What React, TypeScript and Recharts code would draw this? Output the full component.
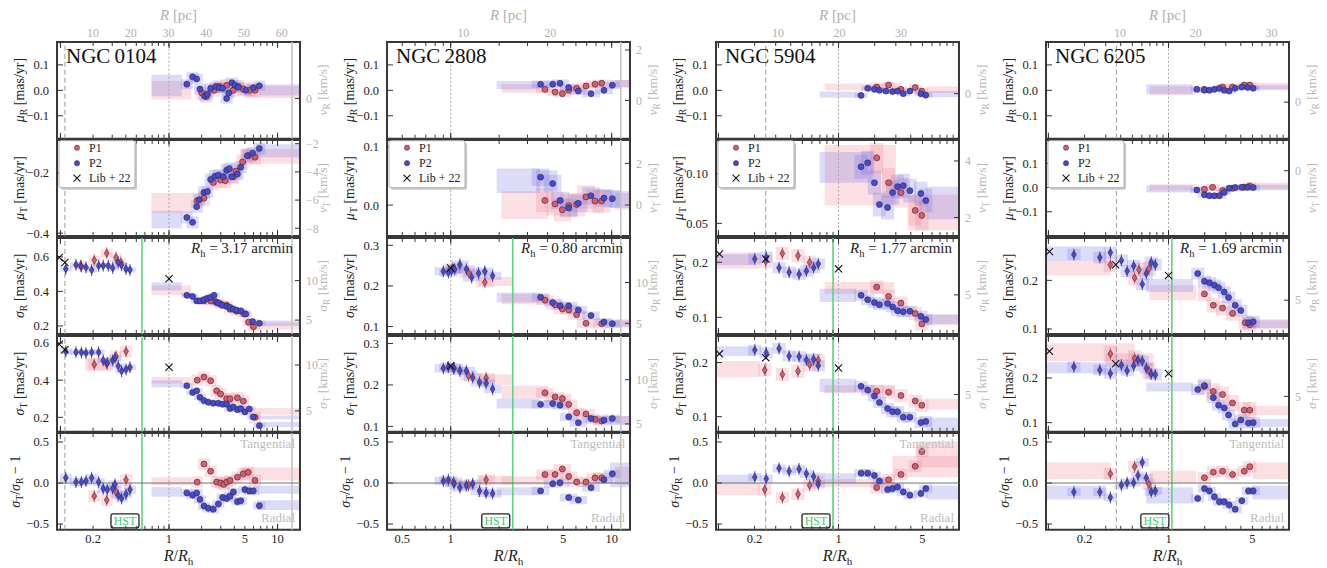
import React from 'react';
import { ComposedChart, Scatter, XAxis, YAxis, ReferenceArea, ReferenceLine } from 'recharts';

type Pt = [number, number];
type Box = [number, number, number, number];

// ---------------- categories & tick labels ----------------
const clusterNames = ['NGC\u20090104', 'NGC\u20092808', 'NGC\u20095904', 'NGC\u20096205'];
const halfLightRadii = ['3.17', '0.80', '1.77', '1.69'];
const xTickLabels: number[][] = [[0.2, 1, 5, 10], [0.5, 1, 5, 10], [0.2, 1, 5], [0.2, 1, 5]];
const pcTickLabels: number[][] = [[10, 20, 30, 40, 50, 60], [10, 20], [10, 20, 30], [10, 20, 30]];
const logMinorTicks = [0.1, 0.2, 0.3, 0.4, 0.5, 0.6, 0.7, 0.8, 0.9, 1, 2, 3, 4, 5, 6, 7, 8, 9, 10, 20];
const logMajorTicks = [0.1, 1, 10];
const xDomains: [number, number][] = [[0.093, 16.1], [0.402, 13.0], [0.0955, 10.07], [0.0955, 10.07]];
const pcDomains: [number, number][] = [[0.48, 64.8], [1.2, 29.2], [-0.1, 39.45], [0.24, 32.3]];
// special radii (R/Rh): dashed, dotted, solid gray, green (HST limit)
const dashedRadii: (number | null)[] = [0.11, null, 0.248, 0.368];
const dottedRadii: number[] = [1, 1, 1, 1];
const grayRadii: (number | null)[] = [13.6, 11.4, null, null];
const hstRadii: number[] = [0.564, 2.43, 0.9, 1.066];

const leftDomains: [number, number][][] = [
  [[-0.19, 0.19], [-0.409, -0.091], [0.154, 0.709], [0.122, 0.638], [-0.57, 0.61]],
  [[-0.19, 0.19], [-0.053, 0.112], [0.082, 0.318], [0.087, 0.318], [-0.57, 0.61]],
  [[-0.19, 0.19], [0.0374, 0.134], [0.07, 0.244], [0.072, 0.249], [-0.57, 0.61]],
  [[-0.19, 0.19], [-0.2, 0.197], [0.09, 0.287], [0.0795, 0.294], [-0.57, 0.61]],
];
const leftTicks: number[][][] = [
  [[-0.1, 0, 0.1], [-0.4, -0.2], [0.2, 0.4, 0.6], [0.2, 0.4, 0.6], [-0.5, 0, 0.5]],
  [[-0.1, 0, 0.1], [0, 0.1], [0.1, 0.2, 0.3], [0.1, 0.2, 0.3], [-0.5, 0, 0.5]],
  [[-0.1, 0, 0.1], [0.05, 0.1], [0.1, 0.2], [0.1, 0.2], [-0.5, 0, 0.5]],
  [[-0.1, 0, 0.1], [-0.1, 0, 0.1], [0.1, 0.2], [0.1, 0.2], [-0.5, 0, 0.5]],
];
const leftDecimals: number[][] = [[1, 1, 1, 1, 1], [1, 1, 1, 1, 1], [1, 2, 1, 1, 1], [1, 1, 1, 1, 1]];
const rightDomains: ([number, number] | null)[][] = [
  [[-2.83, 3.97], [-8.54, -1.74], [3.25, 15.4], [2.72, 13.16], null],
  [[-1.52, 2.32], [-1.48, 3.12], [3.7, 15.45], [4.11, 14.94], null],
  [[-3.17, 3.63], [1.35, 4.74], [2.49, 8.66], [2.56, 8.84], null],
  [[-2.57, 4.23], [-4.62, 2.18], [2.83, 9.0], [2.5, 9.26], null],
];
const rightTicks: (number[] | null)[][] = [
  [[0], [-8, -6, -4, -2], [5, 10], [5, 10], null],
  [[0, 2], [0, 2], [5, 10], [5, 10], null],
  [[0], [2, 4], [5], [5], null],
  [[0], [0], [5], [5], null],
];
// y half-size of the per-bin uncertainty boxes [P1, P2]
const boxErr: [number, number][][] = [
  [[0.025, 0.02], [0.025, 0.02], [0.025, 0.015], [0.03, 0.015], [0.07, 0.05]],
  [[0.015, 0.015], [0.02, 0.015], [0.012, 0.01], [0.012, 0.01], [0.06, 0.05]],
  [[0.012, 0.01], [0.015, 0.012], [0.012, 0.01], [0.012, 0.01], [0.07, 0.05]],
  [[0.012, 0.01], [0.015, 0.012], [0.015, 0.012], [0.018, 0.012], [0.07, 0.05]],
];

// ---------------- NGC 0104 ----------------
const n0104MuR_P1: Pt[] = [[2.0, -0.01], [2.2, -0.025], [2.6, 0.0], [2.91, 0.015], [3.4, 0.02], [3.9, 0.0], [4.35, 0.015], [4.84, 0.005], [5.5, 0.0], [6.2, 0.0]];
const n0104MuR_P2: Pt[] = [[1.46, 0.024], [1.65, 0.053], [1.8, 0.045], [1.93, 0.005], [2.13, -0.022], [2.26, -0.015], [2.42, 0.008], [2.71, 0.015], [2.91, 0.01], [3.12, 0.008], [3.4, -0.032], [3.55, -0.01], [3.8, 0.03], [4.05, 0.02], [4.35, 0.012], [5.09, 0.0], [5.98, 0.01], [6.8, 0.018]];
const n0104MuR_W1: Box[] = [[0.69, 1.6, -0.036, 0.037], [5.0, 16.2, -0.03, 0.017]];
const n0104MuR_W2: Box[] = [[0.69, 1.31, -0.023, 0.061], [6.9, 16.2, -0.02, 0.024]];
const n0104MuT_P1: Pt[] = [[1.82, -0.292], [2.1, -0.284], [2.56, -0.232], [2.99, -0.224], [3.3, -0.226], [3.92, -0.213], [4.15, -0.194], [4.76, -0.164], [5.37, -0.143], [6.2, -0.148]];
const n0104MuT_P2: Pt[] = [[1.46, -0.348], [1.65, -0.364], [1.8, -0.312], [1.9, -0.289], [2.1, -0.265], [2.26, -0.262], [2.42, -0.222], [2.65, -0.211], [2.85, -0.208], [3.17, -0.213], [3.4, -0.191], [3.6, -0.186], [3.78, -0.213], [4.27, -0.204], [4.58, -0.181], [5.27, -0.143], [5.9, -0.135], [6.8, -0.119]];
const n0104MuT_W1: Box[] = [[0.69, 1.6, -0.332, -0.267], [4.5, 16.2, -0.17, -0.121]];
const n0104MuT_W2: Box[] = [[0.69, 1.31, -0.384, -0.326], [6.4, 16.2, -0.148, -0.105]];
const n0104SigR_P1: Pt[] = [[0.153, 0.549], [0.205, 0.581], [0.267, 0.621], [0.325, 0.596], [0.359, 0.567], [2.1, 0.345], [2.42, 0.345], [2.75, 0.335], [3.0, 0.325], [3.4, 0.32], [3.65, 0.297], [4.2, 0.285], [4.9, 0.27], [5.4, 0.222], [6.0, 0.195]];
const n0104SigR_P2: Pt[] = [[0.112, 0.53], [0.139, 0.554], [0.156, 0.545], [0.172, 0.539], [0.194, 0.524], [0.225, 0.549], [0.248, 0.549], [0.276, 0.549], [0.303, 0.535], [0.341, 0.567], [0.366, 0.553], [0.402, 0.53], [0.437, 0.524], [1.46, 0.377], [1.65, 0.371], [1.8, 0.345], [1.93, 0.345], [2.1, 0.352], [2.26, 0.36], [2.42, 0.365], [2.6, 0.377], [2.71, 0.34], [2.85, 0.333], [3.1, 0.32], [3.4, 0.314], [3.65, 0.307], [3.9, 0.297], [4.2, 0.291], [4.6, 0.287], [5.1, 0.269], [5.9, 0.225], [6.8, 0.215]];
const n0104SigR_W1: Box[] = [[0.69, 1.6, 0.377, 0.434], [5.5, 16.2, 0.18, 0.22]];
const n0104SigR_W2: Box[] = [[0.69, 1.31, 0.405, 0.453], [6.9, 16.2, 0.2, 0.232]];
const n0104SigR_Lib: Pt[] = [[0.0975, 0.596], [0.11, 0.567], [1.0, 0.473]];
const n0104SigT_P1: Pt[] = [[0.205, 0.485], [0.267, 0.488], [0.325, 0.529], [0.402, 0.555], [1.82, 0.4], [2.1, 0.417], [2.42, 0.397], [2.75, 0.343], [2.99, 0.325], [3.4, 0.3], [3.65, 0.3], [4.27, 0.305], [4.84, 0.287], [6.2, 0.2]];
const n0104SigT_P2: Pt[] = [[0.112, 0.555], [0.139, 0.551], [0.156, 0.55], [0.172, 0.546], [0.194, 0.55], [0.225, 0.55], [0.248, 0.507], [0.27, 0.493], [0.303, 0.507], [0.318, 0.52], [0.341, 0.476], [0.366, 0.449], [0.402, 0.458], [0.437, 0.47], [1.46, 0.37], [1.65, 0.334], [1.8, 0.343], [1.93, 0.308], [2.1, 0.29], [2.3, 0.281], [2.56, 0.276], [2.85, 0.276], [3.12, 0.27], [3.4, 0.27], [3.65, 0.247], [3.92, 0.255], [4.27, 0.241], [4.58, 0.247], [5.0, 0.229], [5.5, 0.245], [5.98, 0.202], [6.8, 0.155]];
const n0104SigT_W1: Box[] = [[0.69, 1.6, 0.382, 0.417], [5.5, 16.2, 0.215, 0.25], [0.17, 0.3, 0.45, 0.52]];
const n0104SigT_W2: Box[] = [[0.69, 1.31, 0.362, 0.4], [6.0, 16.2, 0.19, 0.21], [6.5, 16.2, 0.148, 0.175]];
const n0104SigT_Lib: Pt[] = [[0.0975, 0.594], [0.11, 0.564], [1.0, 0.47]];
const n0104Aniso_P1: Pt[] = [[0.205, -0.16], [0.267, -0.208], [0.325, -0.108], [0.402, 0.04], [1.82, 0.012], [2.1, 0.232], [2.42, 0.144], [2.75, 0.012], [2.99, 0.0], [3.2, -0.016], [3.4, 0.012], [3.65, 0.032], [4.27, 0.072], [4.84, 0.112], [5.37, 0.132], [6.2, 0.032]];
const n0104Aniso_P2: Pt[] = [[0.112, 0.064], [0.139, 0.012], [0.156, 0.012], [0.172, 0.024], [0.194, 0.064], [0.225, 0.012], [0.248, -0.068], [0.27, -0.08], [0.303, -0.068], [0.318, -0.016], [0.341, -0.148], [0.366, -0.188], [0.402, -0.136], [0.437, -0.08], [1.46, -0.12], [1.65, -0.148], [1.8, -0.12], [1.93, -0.2], [2.1, -0.28], [2.3, -0.308], [2.56, -0.32], [2.85, -0.256], [3.12, -0.176], [3.4, -0.188], [3.65, -0.16], [3.92, -0.108], [4.27, -0.228], [4.58, -0.216], [5.0, -0.08], [5.5, -0.096], [5.98, -0.096], [6.8, -0.276]];
const n0104Aniso_W1: Box[] = [[0.69, 1.6, -0.028, 0.072], [4.5, 16.2, 0.03, 0.19]];
const n0104Aniso_W2: Box[] = [[0.69, 1.31, -0.168, -0.048], [6.0, 16.2, -0.13, -0.03], [6.5, 16.2, -0.33, -0.21]];

// ---------------- NGC 2808 ----------------
const n2808MuR_P1: Pt[] = [[3.85, 0.004], [4.45, -0.007], [4.94, -0.013], [5.41, 0.0], [6.06, 0.008], [6.93, 0.017], [7.88, 0.024], [8.67, 0.028]];
const n2808MuR_P2: Pt[] = [[3.62, 0.024], [4.3, 0.024], [4.78, 0.028], [5.41, 0.011], [6.21, -0.003], [7.44, -0.013], [8.96, 0.0], [10.1, 0.02]];
const n2808MuR_W1: Box[] = [[2.07, 4.04, -0.009, 0.024], [10.5, 13.2, 0.008, 0.041]];
const n2808MuR_W2: Box[] = [[1.93, 3.59, 0.004, 0.037], [9.77, 13.2, 0.013, 0.041]];
const n2808MuT_P1: Pt[] = [[3.85, 0.008], [4.45, 0.002], [4.94, -0.008], [5.41, -0.001], [6.06, 0.001], [6.93, 0.014], [7.88, 0.007], [8.67, 0.007]];
const n2808MuT_P2: Pt[] = [[3.62, 0.048], [4.3, 0.037], [4.78, 0.008], [5.41, -0.005], [6.21, 0.003], [7.44, 0.016], [8.96, 0.012], [10.1, 0.011]];
const n2808MuT_W1: Box[] = [[2.07, 4.04, -0.024, 0.024], [10.5, 13.2, -0.008, 0.021]];
const n2808MuT_W2: Box[] = [[1.93, 3.59, 0.021, 0.063], [9.77, 13.2, -0.005, 0.024], [3.4, 4.6, 0.025, 0.06]];
const n2808SigR_P1: Pt[] = [[1.03, 0.244], [1.29, 0.233], [1.63, 0.209], [3.85, 0.165], [4.45, 0.154], [4.94, 0.143], [5.41, 0.141], [6.06, 0.129], [6.93, 0.108], [8.67, 0.107]];
const n2808SigR_P2: Pt[] = [[0.9, 0.236], [0.967, 0.233], [1.01, 0.238], [1.06, 0.241], [1.14, 0.253], [1.25, 0.241], [1.35, 0.221], [1.49, 0.231], [1.63, 0.236], [1.82, 0.225], [3.62, 0.172], [4.3, 0.159], [4.78, 0.151], [5.41, 0.151], [6.21, 0.141], [7.44, 0.127], [8.96, 0.111], [10.1, 0.107]];
const n2808SigR_W1: Box[] = [[2.07, 4.04, 0.155, 0.18], [10.5, 13.2, 0.1, 0.118], [1.5, 2.43, 0.2, 0.222]];
const n2808SigR_W2: Box[] = [[1.93, 3.59, 0.159, 0.184], [9.77, 13.2, 0.098, 0.115]];
const n2808SigR_Lib: Pt[] = [[1.0, 0.244]];
const n2808SigT_P1: Pt[] = [[1.04, 0.24], [1.29, 0.222], [1.66, 0.217], [3.85, 0.181], [4.45, 0.171], [4.94, 0.167], [5.41, 0.153], [6.06, 0.133], [6.93, 0.13], [7.88, 0.117], [8.67, 0.113]];
const n2808SigT_P2: Pt[] = [[0.9, 0.24], [0.967, 0.243], [1.05, 0.24], [1.14, 0.234], [1.25, 0.234], [1.37, 0.218], [1.51, 0.206], [1.66, 0.204], [1.82, 0.19], [3.62, 0.153], [4.3, 0.155], [4.78, 0.151], [5.41, 0.123], [6.21, 0.109], [7.44, 0.119], [8.96, 0.115], [10.1, 0.119]];
const n2808SigT_W1: Box[] = [[2.07, 4.04, 0.167, 0.198], [10.5, 13.2, 0.105, 0.125], [1.5, 2.43, 0.2, 0.225]];
const n2808SigT_W2: Box[] = [[1.93, 3.59, 0.143, 0.167], [9.77, 13.2, 0.103, 0.125]];
const n2808SigT_Lib: Pt[] = [[1.0, 0.246]];
const n2808Aniso_P1: Pt[] = [[1.04, 0.012], [1.29, -0.028], [1.66, 0.04], [3.85, 0.104], [4.45, 0.104], [4.94, 0.172], [5.41, 0.08], [6.06, 0.012], [6.93, 0.012], [7.88, 0.064], [8.67, 0.064]];
const n2808Aniso_P2: Pt[] = [[0.9, 0.024], [0.967, 0.04], [1.05, -0.008], [1.14, -0.056], [1.25, -0.028], [1.37, -0.008], [1.51, -0.096], [1.66, -0.12], [1.82, -0.128], [3.62, -0.096], [4.3, -0.008], [4.78, 0.004], [5.41, -0.176], [6.21, -0.208], [7.44, -0.056], [8.96, 0.04], [10.1, 0.112]];
const n2808Aniso_W1: Box[] = [[2.07, 4.04, -0.02, 0.08], [10.5, 13.2, -0.02, 0.2], [1.5, 2.43, -0.02, 0.09]];
const n2808Aniso_W2: Box[] = [[1.93, 3.59, -0.15, -0.05], [9.77, 13.2, -0.05, 0.25]];

// ---------------- NGC 5904 ----------------
const n5904MuR_P1: Pt[] = [[2.08, 0.013], [2.61, 0.021], [3.31, 0.004], [4.35, 0.011], [4.94, -0.003]];
const n5904MuR_P2: Pt[] = [[1.54, -0.02], [1.75, 0.008], [1.99, 0.004], [2.19, 0.0], [2.48, -0.003], [2.82, -0.005], [3.1, -0.003], [3.46, -0.013], [3.93, -0.003], [4.85, -0.013], [5.33, -0.019]];
const n5904MuR_W1: Box[] = [[0.766, 1.81, 0.0, 0.027], [5.4, 10.2, -0.01, 0.015], [1.8, 3.3, 0.0, 0.03]];
const n5904MuR_W2: Box[] = [[0.696, 1.49, -0.029, -0.005], [5.4, 10.2, -0.027, -0.003]];
const n5904MuT_P1: Pt[] = [[2.08, 0.116], [2.61, 0.091], [3.31, 0.081], [4.35, 0.063], [4.94, 0.058]];
const n5904MuT_P2: Pt[] = [[1.54, 0.107], [1.75, 0.111], [1.99, 0.091], [2.19, 0.069], [2.56, 0.066], [2.82, 0.081], [3.1, 0.087], [3.46, 0.088], [3.93, 0.083], [4.85, 0.08], [5.33, 0.073]];
const n5904MuT_W1: Box[] = [[0.766, 3.0, 0.068, 0.129], [3.76, 10.2, 0.043, 0.079]];
const n5904MuT_W2: Box[] = [[0.696, 1.93, 0.091, 0.122], [5.4, 10.2, 0.054, 0.087]];
const n5904SigR_P1: Pt[] = [[0.248, 0.202], [0.341, 0.216], [0.46, 0.212], [0.575, 0.2], [2.08, 0.155], [2.61, 0.138], [3.31, 0.126], [4.35, 0.107], [4.94, 0.088]];
const n5904SigR_P2: Pt[] = [[0.201, 0.206], [0.25, 0.209], [0.32, 0.19], [0.388, 0.182], [0.469, 0.178], [0.54, 0.184], [0.621, 0.19], [0.678, 0.197], [1.54, 0.14], [1.75, 0.132], [1.99, 0.127], [2.19, 0.123], [2.56, 0.125], [2.82, 0.119], [3.1, 0.112], [3.46, 0.11], [3.93, 0.111], [4.85, 0.102], [5.33, 0.096]];
const n5904SigR_W1: Box[] = [[0.095, 0.22, 0.188, 0.218], [0.766, 2.91, 0.143, 0.164], [5.4, 10.2, 0.085, 0.105]];
const n5904SigR_W2: Box[] = [[0.095, 0.2, 0.195, 0.215], [0.696, 1.4, 0.128, 0.152], [5.4, 10.2, 0.088, 0.105]];
const n5904SigR_Lib: Pt[] = [[0.102, 0.215], [0.248, 0.206], [1.0, 0.188]];
const n5904SigT_P1: Pt[] = [[0.243, 0.186], [0.341, 0.178], [0.46, 0.184], [0.575, 0.196], [0.678, 0.204], [2.08, 0.147], [2.61, 0.145], [3.31, 0.139], [4.35, 0.129], [4.94, 0.121]];
const n5904SigT_P2: Pt[] = [[0.201, 0.223], [0.25, 0.218], [0.32, 0.226], [0.388, 0.212], [0.469, 0.211], [0.54, 0.205], [0.621, 0.206], [0.678, 0.194], [1.54, 0.156], [1.75, 0.149], [1.99, 0.138], [2.19, 0.126], [2.56, 0.115], [2.82, 0.109], [3.1, 0.109], [3.46, 0.099], [3.93, 0.099], [4.85, 0.089], [5.33, 0.091]];
const n5904SigT_W1: Box[] = [[0.095, 0.22, 0.173, 0.203], [0.766, 2.91, 0.143, 0.158], [5.4, 10.2, 0.113, 0.133]];
const n5904SigT_W2: Box[] = [[0.095, 0.2, 0.212, 0.23], [0.696, 1.4, 0.145, 0.17], [5.4, 10.2, 0.075, 0.098]];
const n5904SigT_Lib: Pt[] = [[0.102, 0.216], [0.248, 0.209], [1.0, 0.19]];
const n5904Aniso_P1: Pt[] = [[0.243, -0.08], [0.341, -0.176], [0.46, -0.136], [0.575, -0.028], [0.678, 0.024], [2.08, -0.056], [2.61, 0.04], [3.31, 0.104], [4.35, 0.204], [4.94, 0.384]];
const n5904Aniso_P2: Pt[] = [[0.201, 0.072], [0.25, 0.052], [0.32, 0.18], [0.388, 0.144], [0.469, 0.172], [0.54, 0.112], [0.621, 0.08], [0.678, -0.016], [1.54, 0.12], [1.75, 0.12], [1.99, 0.092], [2.19, 0.024], [2.56, -0.08], [2.82, -0.068], [3.1, -0.048], [3.46, -0.108], [3.93, -0.148], [4.85, -0.128], [5.33, -0.068]];
const n5904Aniso_W1: Box[] = [[0.095, 0.22, -0.15, 0.0], [0.766, 2.91, -0.05, 0.05], [2.82, 10.2, 0.07, 0.33], [4.5, 10.2, 0.19, 0.51]];
const n5904Aniso_W2: Box[] = [[0.095, 0.2, 0.0, 0.1], [0.696, 1.4, 0.0, 0.12], [5.4, 10.2, -0.2, -0.03]];

// ---------------- NGC 6205 ----------------
const n6205MuR_P1: Pt[] = [[1.99, 0.004], [2.82, 0.013], [3.41, 0.013], [4.27, 0.021], [4.75, 0.021]];
const n6205MuR_P2: Pt[] = [[1.72, 0.004], [1.99, 0.0], [2.19, 0.0], [2.41, 0.004], [2.65, 0.008], [2.91, 0.0], [3.2, -0.003], [3.59, 0.008], [4.08, 0.013], [4.55, 0.011], [5.07, 0.008]];
const n6205MuR_W1: Box[] = [[0.696, 1.7, -0.016, 0.016], [5.0, 10.2, 0.005, 0.03]];
const n6205MuR_W2: Box[] = [[0.653, 1.59, -0.016, 0.024], [5.2, 10.2, 0.0, 0.02]];
const n6205MuT_P1: Pt[] = [[1.99, -0.007], [2.33, 0.001], [2.82, -0.012], [3.41, -0.003], [4.27, 0.001], [4.75, 0.007]];
const n6205MuT_P2: Pt[] = [[1.72, -0.01], [1.99, -0.03], [2.19, -0.034], [2.41, -0.034], [2.65, -0.034], [2.91, -0.02], [3.2, -0.003], [3.59, 0.0], [4.08, 0.001], [4.55, 0.001], [5.07, 0.0]];
const n6205MuT_W1: Box[] = [[0.696, 1.7, -0.012, 0.014], [5.0, 10.2, -0.005, 0.02]];
const n6205MuT_W2: Box[] = [[0.653, 1.59, -0.02, 0.01], [5.2, 10.2, -0.012, 0.012]];
const n6205SigR_P1: Pt[] = [[0.328, 0.232], [0.522, 0.205], [0.567, 0.222], [0.687, 0.224], [1.99, 0.172], [2.36, 0.149], [2.82, 0.143], [3.41, 0.132], [4.35, 0.113], [4.75, 0.109]];
const n6205SigR_P2: Pt[] = [[0.163, 0.253], [0.268, 0.247], [0.328, 0.257], [0.405, 0.241], [0.452, 0.219], [0.513, 0.23], [0.605, 0.192], [0.653, 0.214], [0.718, 0.237], [0.776, 0.232], [1.75, 0.214], [1.99, 0.198], [2.19, 0.195], [2.41, 0.19], [2.61, 0.185], [2.91, 0.176], [3.16, 0.165], [3.59, 0.149], [4.0, 0.138], [4.63, 0.113], [5.07, 0.115]];
const n6205SigR_W1: Box[] = [[0.095, 0.33, 0.21, 0.24], [0.696, 1.7, 0.159, 0.19], [5.0, 10.2, 0.1, 0.12]];
const n6205SigR_W2: Box[] = [[0.095, 0.3, 0.24, 0.27], [0.653, 1.6, 0.176, 0.203], [5.0, 10.2, 0.102, 0.118]];
const n6205SigR_Lib: Pt[] = [[0.102, 0.259], [0.363, 0.232], [1.0, 0.21]];
const n6205SigT_P1: Pt[] = [[0.328, 0.254], [0.522, 0.244], [0.687, 0.216], [1.99, 0.181], [2.36, 0.17], [2.82, 0.163], [3.41, 0.144], [4.27, 0.128], [4.75, 0.128]];
const n6205SigT_P2: Pt[] = [[0.163, 0.225], [0.268, 0.218], [0.328, 0.21], [0.405, 0.229], [0.452, 0.216], [0.513, 0.227], [0.557, 0.24], [0.605, 0.238], [0.653, 0.222], [0.718, 0.209], [0.776, 0.207], [1.75, 0.174], [1.99, 0.183], [2.36, 0.156], [2.61, 0.139], [2.91, 0.133], [3.16, 0.117], [3.59, 0.097], [4.0, 0.106], [4.63, 0.099], [5.07, 0.1]];
const n6205SigT_W1: Box[] = [[0.095, 0.52, 0.238, 0.278], [0.3, 0.75, 0.225, 0.255], [5.0, 10.2, 0.117, 0.138]];
const n6205SigT_W2: Box[] = [[0.095, 0.45, 0.21, 0.235], [0.653, 1.6, 0.17, 0.19], [5.0, 10.2, 0.09, 0.108]];
const n6205SigT_Lib: Pt[] = [[0.102, 0.26], [0.363, 0.232], [1.0, 0.21]];
const n6205Aniso_P1: Pt[] = [[0.328, 0.112], [0.522, 0.2], [0.687, -0.016], [1.99, 0.064], [2.36, 0.132], [2.82, 0.144], [3.41, 0.104], [4.27, 0.144], [4.75, 0.2]];
const n6205Aniso_P2: Pt[] = [[0.163, -0.108], [0.268, -0.108], [0.328, -0.176], [0.405, -0.028], [0.452, 0.004], [0.513, 0.004], [0.557, 0.092], [0.605, 0.252], [0.653, 0.064], [0.718, -0.108], [0.776, -0.096], [1.75, -0.188], [1.99, -0.068], [2.19, -0.096], [2.41, -0.168], [2.65, -0.228], [2.91, -0.228], [3.2, -0.268], [3.59, -0.32], [4.08, -0.216], [4.63, -0.096], [5.07, -0.096]];
const n6205Aniso_W1: Box[] = [[0.095, 0.33, 0.05, 0.25], [0.696, 1.7, 0.0, 0.15], [5.0, 10.2, 0.05, 0.25]];
const n6205Aniso_W2: Box[] = [[0.095, 0.3, -0.2, -0.03], [0.653, 1.6, -0.25, -0.05], [5.0, 10.2, -0.2, -0.03]];

const P1: Pt[][][] = [
  [n0104MuR_P1, n0104MuT_P1, n0104SigR_P1, n0104SigT_P1, n0104Aniso_P1],
  [n2808MuR_P1, n2808MuT_P1, n2808SigR_P1, n2808SigT_P1, n2808Aniso_P1],
  [n5904MuR_P1, n5904MuT_P1, n5904SigR_P1, n5904SigT_P1, n5904Aniso_P1],
  [n6205MuR_P1, n6205MuT_P1, n6205SigR_P1, n6205SigT_P1, n6205Aniso_P1],
];
const P2: Pt[][][] = [
  [n0104MuR_P2, n0104MuT_P2, n0104SigR_P2, n0104SigT_P2, n0104Aniso_P2],
  [n2808MuR_P2, n2808MuT_P2, n2808SigR_P2, n2808SigT_P2, n2808Aniso_P2],
  [n5904MuR_P2, n5904MuT_P2, n5904SigR_P2, n5904SigT_P2, n5904Aniso_P2],
  [n6205MuR_P2, n6205MuT_P2, n6205SigR_P2, n6205SigT_P2, n6205Aniso_P2],
];
const W1: Box[][][] = [
  [n0104MuR_W1, n0104MuT_W1, n0104SigR_W1, n0104SigT_W1, n0104Aniso_W1],
  [n2808MuR_W1, n2808MuT_W1, n2808SigR_W1, n2808SigT_W1, n2808Aniso_W1],
  [n5904MuR_W1, n5904MuT_W1, n5904SigR_W1, n5904SigT_W1, n5904Aniso_W1],
  [n6205MuR_W1, n6205MuT_W1, n6205SigR_W1, n6205SigT_W1, n6205Aniso_W1],
];
const W2: Box[][][] = [
  [n0104MuR_W2, n0104MuT_W2, n0104SigR_W2, n0104SigT_W2, n0104Aniso_W2],
  [n2808MuR_W2, n2808MuT_W2, n2808SigR_W2, n2808SigT_W2, n2808Aniso_W2],
  [n5904MuR_W2, n5904MuT_W2, n5904SigR_W2, n5904SigT_W2, n5904Aniso_W2],
  [n6205MuR_W2, n6205MuT_W2, n6205SigR_W2, n6205SigT_W2, n6205Aniso_W2],
];
const LIB: Pt[][][] = [
  [[], [], n0104SigR_Lib, n0104SigT_Lib, []],
  [[], [], n2808SigR_Lib, n2808SigT_Lib, []],
  [[], [], n5904SigR_Lib, n5904SigT_Lib, []],
  [[], [], n6205SigR_Lib, n6205SigT_Lib, []],
];

// ---------------- layout & style ----------------
const FONT = '"Liberation Serif", "DejaVu Serif", serif';
const ROW_TOP = [41.7, 140.2, 237.9, 335.6, 433.2];
const ROW_BOT = [138.4, 236.1, 333.8, 431.4, 530];
const PLOT_LEFT = [57, 387, 716, 1046];
const PLOT_W = 243;
const LEFT_W = 57;
const RIGHT_W = 40;
const BOX_HALF_DEX = 0.055;
const RED = '#dc5a70';
const BLUE = '#4848d8';
const RED_BOX = '#f07888';
const BLUE_BOX = '#6e6ee4';
const BOX_OP = 0.24;
const GREEN = '#5ad67c';
const FRAME = '#383838';

const NoTick = () => null;
const Invisible = () => <g />;
const fmt = (d: number) => (v: number) => {
  const s = Math.abs(v).toFixed(d);
  return v < -1e-9 ? '\u2212' + s : s;
};

function markerShape(color: string, hst: number) {
  return (props: any) => {
    const { cx, cy, payload } = props;
    if (cx == null || cy == null) return <g />;
    if (payload && payload.x < hst) {
      return (
        <g>
          <line x1={cx} x2={cx} y1={cy - 6} y2={cy + 6} stroke={color} strokeWidth={1} />
          <polygon points={`${cx},${cy - 4} ${cx + 2.4},${cy} ${cx},${cy + 4} ${cx - 2.4},${cy}`} fill={color} stroke="#2a2a2a" strokeWidth={0.6} />
        </g>
      );
    }
    return <circle cx={cx} cy={cy} r={3} fill={color} stroke="#2a2a2a" strokeWidth={0.6} />;
  };
}
const crossShape = (props: any) => {
  const { cx, cy } = props;
  if (cx == null || cy == null) return <g />;
  const s = 3.6;
  return (
    <g stroke="#111" strokeWidth={1.1}>
      <line x1={cx - s} y1={cy - s} x2={cx + s} y2={cy + s} />
      <line x1={cx - s} y1={cy + s} x2={cx + s} y2={cy - s} />
    </g>
  );
};

const HstLabel = (props: any) => {
  const vb = props.viewBox || {};
  const x = vb.x ?? 0;
  const yb = (vb.y ?? 0) + (vb.height ?? 0);
  return (
    <g>
      <rect x={x - 31} y={yb - 16} width={28} height={14} rx={2} fill="#fff" stroke="#222" strokeWidth={1.3} />
      <text x={x - 17} y={yb - 5} textAnchor="middle" fill="#3fcf6a" fontSize={12} fontFamily={FONT}>HST</text>
    </g>
  );
};

const toXY = (pts: Pt[]) => pts.map(([x, y]) => ({ x, y }));

function Panel({ c, r }: { c: number; r: number }) {
  const top = ROW_TOP[r];
  const bot = ROW_BOT[r];
  const topExtra = r === 0 ? 20 : 0;
  const botExtra = r === 4 ? 26 : 0;
  const rd = rightDomains[c][r];
  const rt = rightTicks[c][r];
  const hasRight = !!rd;
  const h = bot - top + topExtra + botExtra;
  const xd = xDomains[c];
  const minor = logMinorTicks.filter((t) => t >= xd[0] && t <= xd[1]);
  const major = logMajorTicks.filter((t) => t >= xd[0] && t <= xd[1]);
  const ld = leftDomains[c][r];
  const [e1, e2] = boxErr[c][r];
  const K = Math.pow(10, BOX_HALF_DEX);
  const hst = hstRadii[c];
  const tickLineStyle = { stroke: '#333', strokeWidth: 1 };
  const xMid = Math.sqrt(xd[0] * xd[1]);
  const yMid = (ld[0] + ld[1]) / 2;
  const anchorPt = [{ x: xMid, y: yMid }];

  const ax = { xAxisId: 'b', yAxisId: 'l' } as const;

  return (
    <div style={{ position: 'absolute', left: PLOT_LEFT[c] - LEFT_W, top: top - topExtra }}>
      <ComposedChart width={LEFT_W + PLOT_W + RIGHT_W} height={h} margin={{ top: 0, right: hasRight ? 0 : RIGHT_W, bottom: 0, left: 0 }}>
        <XAxis xAxisId="b" dataKey="x" type="number" scale="log" domain={xd} allowDataOverflow ticks={xTickLabels[c]} interval={0}
          hide={r !== 4} height={26} tickLine={false} axisLine={false} tickSize={1} tickMargin={3}
          tick={{ fontSize: 12.5, fill: '#222', fontFamily: FONT }} tickFormatter={(v: number) => String(v)} />
        <XAxis xAxisId="bm" dataKey="x" type="number" scale="log" domain={xd} allowDataOverflow ticks={minor} interval={0} mirror height={1}
          tick={NoTick} tickSize={3} axisLine={false} tickLine={tickLineStyle} />
        <XAxis xAxisId="bM" dataKey="x" type="number" scale="log" domain={xd} allowDataOverflow ticks={major} interval={0} mirror height={1}
          tick={NoTick} tickSize={6} axisLine={false} tickLine={tickLineStyle} />
        <XAxis xAxisId="tm" dataKey="x" orientation="top" type="number" scale="log" domain={xd} allowDataOverflow ticks={minor} interval={0} mirror height={1}
          tick={NoTick} tickSize={3} axisLine={false} tickLine={tickLineStyle} />
        <XAxis xAxisId="tM" dataKey="x" orientation="top" type="number" scale="log" domain={xd} allowDataOverflow ticks={major} interval={0} mirror height={1}
          tick={NoTick} tickSize={6} axisLine={false} tickLine={tickLineStyle} />
        {r === 0 && (
          <XAxis xAxisId="pc" dataKey="x" orientation="top" type="number" domain={pcDomains[c]} allowDataOverflow ticks={pcTickLabels[c]} interval={0}
            height={20} tickLine={false} axisLine={false} tickSize={2} tickMargin={3}
            tick={{ fontSize: 12, fill: '#b0b0b0', fontFamily: FONT }} />
        )}
        <YAxis yAxisId="l" dataKey="y" type="number" domain={ld} allowDataOverflow ticks={leftTicks[c][r]} interval={0} width={LEFT_W}
          tickLine={false} axisLine={false} tickSize={4} tickMargin={4}
          tick={{ fontSize: 12.5, fill: '#222', fontFamily: FONT }} tickFormatter={fmt(leftDecimals[c][r])} />
        <YAxis yAxisId="lm" dataKey="y" type="number" domain={ld} allowDataOverflow ticks={leftTicks[c][r]} interval={0} mirror width={1}
          tick={NoTick} tickSize={6} axisLine={false} tickLine={tickLineStyle} />
        {hasRight && (
          <YAxis yAxisId="r" dataKey="y" orientation="right" type="number" domain={rd as [number, number]} allowDataOverflow ticks={rt as number[]} interval={0}
            width={RIGHT_W} axisLine={false} tickLine={false} tickSize={3} tickMargin={3}
            tick={{ fontSize: 12, fill: '#b4b4b4', fontFamily: FONT }} tickFormatter={fmt(0)} />
        )}
        {hasRight && (
          <YAxis yAxisId="rm" dataKey="y" orientation="right" mirror type="number" domain={rd as [number, number]} allowDataOverflow ticks={rt as number[]} interval={0}
            width={1} axisLine={false} tick={NoTick} tickSize={5} tickLine={tickLineStyle} />
        )}

        {/* anchor points (invisible) so each auxiliary axis has a linked series */}
        <Scatter xAxisId="bm" yAxisId="lm" data={anchorPt} shape={Invisible} isAnimationActive={false} />
        <Scatter xAxisId="bM" yAxisId="lm" data={anchorPt} shape={Invisible} isAnimationActive={false} />
        <Scatter xAxisId="tm" yAxisId="l" data={anchorPt} shape={Invisible} isAnimationActive={false} />
        <Scatter xAxisId="tM" yAxisId="l" data={anchorPt} shape={Invisible} isAnimationActive={false} />
        {r === 0 && (
          <Scatter xAxisId="pc" yAxisId="l" data={[{ x: (pcDomains[c][0] + pcDomains[c][1]) / 2, y: yMid }]} shape={Invisible} isAnimationActive={false} />
        )}
        {hasRight && (
          <Scatter xAxisId="b" yAxisId="r" data={[{ x: xMid, y: ((rd as number[])[0] + (rd as number[])[1]) / 2 }]} shape={Invisible} isAnimationActive={false} />
        )}
        {hasRight && (
          <Scatter xAxisId="b" yAxisId="rm" data={[{ x: xMid, y: ((rd as number[])[0] + (rd as number[])[1]) / 2 }]} shape={Invisible} isAnimationActive={false} />
        )}

        {W1[c][r].map((b, i) => (
          <ReferenceArea key={`w1-${i}`} {...ax} x1={b[0]} x2={b[1]} y1={b[2]} y2={b[3]} fill={RED_BOX} fillOpacity={BOX_OP} stroke="none" ifOverflow="hidden" />
        ))}
        {W2[c][r].map((b, i) => (
          <ReferenceArea key={`w2-${i}`} {...ax} x1={b[0]} x2={b[1]} y1={b[2]} y2={b[3]} fill={BLUE_BOX} fillOpacity={BOX_OP} stroke="none" ifOverflow="hidden" />
        ))}
        {P1[c][r].map(([x, y], i) => (
          <ReferenceArea key={`b1-${i}`} {...ax} x1={x / K} x2={x * K} y1={y - e1} y2={y + e1} fill={RED_BOX} fillOpacity={BOX_OP} stroke="none" ifOverflow="hidden" />
        ))}
        {P2[c][r].map(([x, y], i) => (
          <ReferenceArea key={`b2-${i}`} {...ax} x1={x / K} x2={x * K} y1={y - e2} y2={y + e2} fill={BLUE_BOX} fillOpacity={BOX_OP} stroke="none" ifOverflow="hidden" />
        ))}

        {dashedRadii[c] != null && (
          <ReferenceLine {...ax} x={dashedRadii[c] as number} stroke="#9a9a9a" strokeWidth={1} strokeDasharray="5 3" ifOverflow="hidden" />
        )}
        <ReferenceLine {...ax} x={dottedRadii[c]} stroke="#a8a8a8" strokeWidth={1} strokeDasharray="2 2" ifOverflow="hidden" />
        {grayRadii[c] != null && (
          <ReferenceLine {...ax} x={grayRadii[c] as number} stroke="#c4c4c4" strokeWidth={1.6} ifOverflow="hidden" />
        )}
        {r >= 2 && (
          <ReferenceLine {...ax} x={hst} stroke={GREEN} strokeWidth={1.6} ifOverflow="hidden" label={r === 4 ? HstLabel : undefined} />
        )}
        {r === 4 && <ReferenceLine {...ax} y={0} stroke="#707070" strokeWidth={1} ifOverflow="hidden" />}

        <Scatter {...ax} data={toXY(P1[c][r])} shape={markerShape(RED, hst)} isAnimationActive={false} />
        <Scatter {...ax} data={toXY(P2[c][r])} shape={markerShape(BLUE, hst)} isAnimationActive={false} />
        {LIB[c][r].length > 0 && <Scatter {...ax} data={toXY(LIB[c][r])} shape={crossShape} isAnimationActive={false} />}

        <ReferenceArea {...ax} x1={xd[0]} x2={xd[1]} y1={ld[0]} y2={ld[1]} fill="none" fillOpacity={0} stroke={FRAME} strokeWidth={2} ifOverflow="visible" />
      </ComposedChart>
    </div>
  );
}

type Part = { t: string; i?: boolean; sub?: boolean };
function Rich({ parts, size }: { parts: Part[]; size: number }) {
  const out: React.ReactNode[] = [];
  let inSub = false;
  const shift = size * 0.28;
  parts.forEach((p, k) => {
    let dy = 0;
    if (p.sub && !inSub) { dy = shift; inSub = true; }
    else if (!p.sub && inSub) { dy = -shift; inSub = false; }
    out.push(
      <tspan key={k} dy={dy || undefined} fontStyle={p.i ? 'italic' : undefined} fontSize={p.sub ? size * 0.7 : undefined}>{p.t}</tspan>
    );
  });
  return <>{out}</>;
}

const leftLabels: Part[][] = [
  [{ t: '\u03bc', i: true }, { t: 'R', sub: true }, { t: ' [mas/yr]' }],
  [{ t: '\u03bc', i: true }, { t: 'T', sub: true }, { t: ' [mas/yr]' }],
  [{ t: '\u03c3', i: true }, { t: 'R', sub: true }, { t: ' [mas/yr]' }],
  [{ t: '\u03c3', i: true }, { t: 'T', sub: true }, { t: ' [mas/yr]' }],
  [{ t: '\u03c3', i: true }, { t: 'T', sub: true }, { t: '/' }, { t: '\u03c3', i: true }, { t: 'R', sub: true }, { t: ' \u2212 1' }],
];
const rightLabels: Part[][] = [
  [{ t: 'v', i: true }, { t: 'R', sub: true }, { t: ' [km/s]' }],
  [{ t: 'v', i: true }, { t: 'T', sub: true }, { t: ' [km/s]' }],
  [{ t: '\u03c3', i: true }, { t: 'R', sub: true }, { t: ' [km/s]' }],
  [{ t: '\u03c3', i: true }, { t: 'T', sub: true }, { t: ' [km/s]' }],
];

function Overlay() {
  const items: React.ReactNode[] = [];
  for (let c = 0; c < 4; c++) {
    const pl = PLOT_LEFT[c];
    const pr = pl + PLOT_W;
    const mid = pl + PLOT_W / 2;
    items.push(
      <text key={`pc${c}`} x={mid} y={20} textAnchor="middle" fontSize={15} fill="#b0b0b0" fontFamily={FONT}>
        <tspan fontStyle="italic">R</tspan><tspan> [pc]</tspan>
      </text>
    );
    items.push(
      <text key={`rr${c}`} x={mid} y={561} textAnchor="middle" fontSize={16} fill="#222" fontFamily={FONT}>
        <Rich size={16} parts={[{ t: 'R', i: true }, { t: '/' }, { t: 'R', i: true }, { t: 'h', sub: true }]} />
      </text>
    );
    items.push(
      <text key={`nm${c}`} x={pl + 9} y={63} fontSize={21} fill="#111" fontFamily={FONT}>{clusterNames[c]}</text>
    );
    items.push(
      <text key={`rh${c}`} x={pr - 7} y={253} textAnchor="end" fontSize={15} fill="#222" fontFamily={FONT}>
        <Rich size={15} parts={[{ t: 'R', i: true }, { t: 'h', sub: true }, { t: ` = ${halfLightRadii[c]} arcmin` }]} />
      </text>
    );
    items.push(
      <text key={`tg${c}`} x={pr - 5} y={448} textAnchor="end" fontSize={13} fill="#bdbdbd" fontFamily={FONT}>Tangential</text>
    );
    items.push(
      <text key={`rd${c}`} x={pr - 5} y={522} textAnchor="end" fontSize={13} fill="#bdbdbd" fontFamily={FONT}>Radial</text>
    );
    for (let r = 0; r < 5; r++) {
      const cy = (ROW_TOP[r] + ROW_BOT[r]) / 2;
      const lx = pl - (r === 4 ? 40 : 36);
      items.push(
        <text key={`ll${c}-${r}`} x={lx} y={cy} transform={`rotate(-90 ${lx} ${cy})`} textAnchor="middle" dominantBaseline="middle"
          fontSize={14} fill="#222" fontFamily={FONT}>
          <Rich size={14} parts={leftLabels[r]} />
        </text>
      );
      if (r < 4) {
        const rx = pr + 24;
        items.push(
          <text key={`rl${c}-${r}`} x={rx} y={cy} transform={`rotate(-90 ${rx} ${cy})`} textAnchor="middle" dominantBaseline="middle"
            fontSize={13.5} fill="#b8b8b8" fontFamily={FONT}>
            <Rich size={13.5} parts={rightLabels[r]} />
          </text>
        );
      }
    }
    // legend (row 2)
    const lx0 = pl + 2;
    const ly0 = ROW_TOP[1] + 0.5;
    items.push(
      <g key={`lg${c}`}>
        <rect x={lx0 + 2} y={ly0 + 2} width={76} height={47} rx={2} fill="#c8c8c8" />
        <rect x={lx0} y={ly0} width={76} height={47} rx={2} fill="#fff" stroke="#b0b0b0" strokeWidth={1} />
        <circle cx={lx0 + 18} cy={ly0 + 7} r={2.6} fill={RED} stroke="#2a2a2a" strokeWidth={0.5} />
        <text x={lx0 + 30} y={ly0 + 11} fontSize={12} fill="#222" fontFamily={FONT}>P1</text>
        <circle cx={lx0 + 18} cy={ly0 + 22.5} r={2.6} fill={BLUE} stroke="#2a2a2a" strokeWidth={0.5} />
        <text x={lx0 + 30} y={ly0 + 26.5} fontSize={12} fill="#222" fontFamily={FONT}>P2</text>
        <g stroke="#111" strokeWidth={1.1}>
          <line x1={lx0 + 14.5} y1={ly0 + 34} x2={lx0 + 21.5} y2={ly0 + 41} />
          <line x1={lx0 + 14.5} y1={ly0 + 41} x2={lx0 + 21.5} y2={ly0 + 34} />
        </g>
        <text x={lx0 + 30} y={ly0 + 41.5} fontSize={12} fill="#222" fontFamily={FONT}>Lib + 22</text>
      </g>
    );
  }
  return (
    <svg width={1327} height={568} style={{ position: 'absolute', left: 0, top: 0, pointerEvents: 'none' }}>
      {items}
    </svg>
  );
}

export default function App() {
  const panels: React.ReactNode[] = [];
  for (let c = 0; c < 4; c++) for (let r = 0; r < 5; r++) panels.push(<Panel key={`${c}-${r}`} c={c} r={r} />);
  return (
    <div style={{ position: 'absolute', left: 0, top: 0, width: 1327, height: 568, background: '#fff', overflow: 'hidden', fontFamily: FONT }}>
      <style>{`.recharts-surface{overflow:visible}.recharts-wrapper{overflow:visible}`}</style>
      {panels}
      <Overlay />
    </div>
  );
}
